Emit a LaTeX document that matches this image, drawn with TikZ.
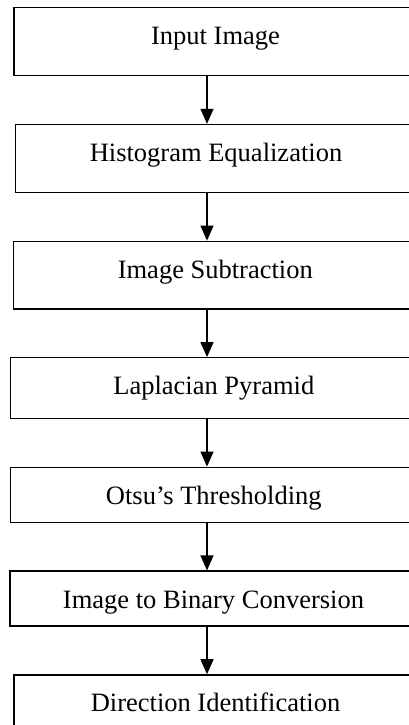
\documentclass[tikz,border=0pt]{standalone}
\usepackage{fontspec}
\setmainfont{Liberation Serif}
\usetikzlibrary{positioning,arrows.meta}

\begin{document}
\begin{tikzpicture}[
		stepbox/.style={rectangle,draw,line width=1.3pt,inner xsep=0pt,inner ysep=0pt,
		text height=37pt,font=\fontsize{26.5}{30}\selectfont},
		flow/.style={-{Triangle[length=15pt,width=13pt]},line width=1.3pt}
		]
	\useasboundingbox (0,0) rectangle (409pt,-725pt);
	\clip (0,0) rectangle (409pt,-725pt);
	\coordinate (ax) at (207pt,0);

	\node[stepbox, anchor=north, minimum width=403pt, text depth=31.3pt](S0) at (215.5pt,-6.7pt){Input Image};
	\node[stepbox, below=47.5pt of S0, xshift=0.5pt, minimum width=400.6pt, text depth=31pt](S1){Histogram Equalization};
	\node[stepbox, below=47.5pt of S1, xshift=-0.7pt, minimum width=403.2pt, text depth=30.7pt](S2){Image Subtraction};
	\node[stepbox, below=47.5pt of S2, xshift=-1.5pt, minimum width=407pt, text depth=23.7pt](S3){Laplacian Pyramid};
	\node[stepbox, below=47.5pt of S3, minimum width=407pt, text depth=18pt](S4){Otsu’s Thresholding};
	\node[stepbox, below=47.5pt of S4, xshift=-0.3pt, minimum width=407pt, text depth=18pt](S5){Image to Binary Conversion};
	\node[stepbox, below=47.5pt of S5, xshift=2pt, minimum width=403pt, text depth=31pt](S6){Direction Identification};

	\foreach \a/\b in {S0/S1,S1/S2,S2/S3,S3/S4,S4/S5,S5/S6}
		\draw[flow] (\a.south -| ax) -- (\b.north -| ax);
\end{tikzpicture}
\end{document}
